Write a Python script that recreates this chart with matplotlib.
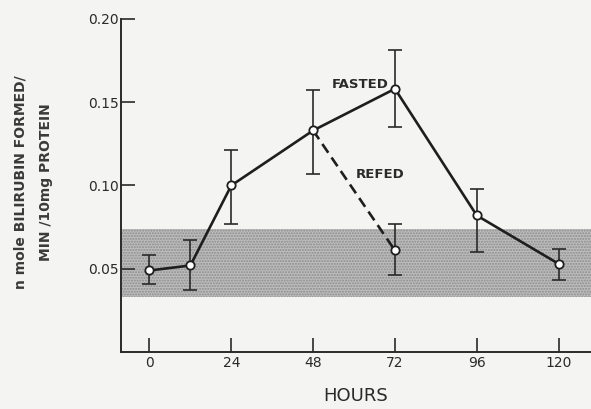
import matplotlib.pyplot as plt
import numpy as np

hours = [0, 12, 24, 48, 72, 96, 120]
fasted = [0.049, 0.052, 0.100, 0.133, 0.158, 0.082, 0.053]
fasted_hi = [0.058, 0.067, 0.121, 0.157, 0.181, 0.098, 0.062]
fasted_lo = [0.041, 0.037, 0.077, 0.107, 0.135, 0.060, 0.043]

refed_hours = [48, 72]
refed = [0.133, 0.061]
refed_hi = 0.077
refed_lo = 0.046

band = (0.033, 0.074)

fig = plt.figure(figsize=(5.91, 4.09), dpi=100)
paper = '#f4f4f2'
fig.patch.set_facecolor(paper)
ax = fig.add_axes([0.205, 0.139, 0.795, 0.815])
ax.set_facecolor(paper)

ax.axhspan(band[0], band[1], facecolor='#bdbdbd', edgecolor='#8c8c8c',
           hatch='......', lw=0, zorder=1)

f = np.array(fasted)
yerr = [f - np.array(fasted_lo), np.array(fasted_hi) - f]
ax.errorbar(hours, fasted, yerr=yerr, fmt='none', ecolor='#2a2a2a',
            elinewidth=1.2, capsize=5, capthick=1.2, zorder=2)
ax.errorbar([refed_hours[1]], [refed[1]],
            yerr=[[refed[1] - refed_lo], [refed_hi - refed[1]]],
            fmt='none', ecolor='#2a2a2a', elinewidth=1.2, capsize=5,
            capthick=1.2, zorder=2)

ax.plot(refed_hours, refed, color='#1e1e1e', lw=1.9, ls=(0, (4, 2.2)), zorder=3)
ax.plot(hours, fasted, color='#1e1e1e', lw=1.9, zorder=3)
ax.plot(hours + [72], fasted + [refed[1]], 'o', ms=6, mfc='white',
        mec='#1e1e1e', mew=1.3, ls='none', zorder=4)

ax.text(70, 0.1605, 'FASTED', ha='right', va='center', fontsize=9.5,
        fontweight='bold', color='#2a2a2a')
ax.text(60.5, 0.1065, 'REFED', ha='left', va='center', fontsize=9.5,
        fontweight='bold', color='#2a2a2a')

ax.set_xlim(-8.3, 129.5)
ax.set_ylim(0, 0.20)
ax.set_xticks([0, 24, 48, 72, 96, 120])
ax.set_yticks([0.05, 0.10, 0.15, 0.20])
ax.set_yticklabels(['0.05', '0.10', '0.15', '0.20'])
ax.tick_params(direction='in', length=10, width=1.2, color='#2a2a2a',
               labelsize=10, labelcolor='#2a2a2a')
ax.tick_params(axis='y', pad=2)
ax.tick_params(axis='x', pad=3)
for s in ['top', 'right']:
    ax.spines[s].set_visible(False)
for s in ['left', 'bottom']:
    ax.spines[s].set_linewidth(1.4)
    ax.spines[s].set_color('#2a2a2a')

ax.set_xlabel('HOURS', fontsize=13, color='#2a2a2a', labelpad=12)
fig.text(0.034, 0.555, 'n mole BILIRUBIN FORMED/', rotation=90, ha='center',
         va='center', fontsize=10, fontweight='bold', color='#3a3a3a')
fig.text(0.078, 0.555, 'MIN /10mg PROTEIN', rotation=90, ha='center',
         va='center', fontsize=10, fontweight='bold', color='#3a3a3a')

fig.savefig('out.png', dpi=100, facecolor=paper)
